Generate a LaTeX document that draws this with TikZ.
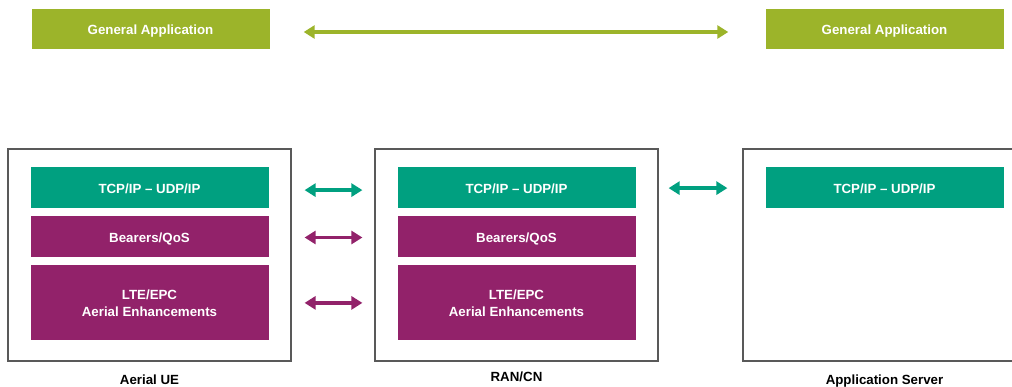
\documentclass[tikz,border=0pt]{standalone}
\usepackage{fontspec}
\setmainfont{Liberation Sans}
\usetikzlibrary{positioning,arrows.meta}

\definecolor{limegreen}{RGB}{156,180,42}
\definecolor{layerteal}{RGB}{0,160,128}
\definecolor{layerpurple}{RGB}{146,34,106}
\definecolor{framegray}{RGB}{89,89,89}

\begin{document}
\begin{tikzpicture}[x=1pt, y=-1pt, font=\bfseries\fontsize{13.3}{17}\selectfont, node distance=8pt,
  layer/.style={text=white, inner sep=0pt, align=center, minimum width=238pt, minimum height=41pt},
  oneline/.style={text height=12pt, text depth=0pt},
  app/.style={layer, oneline, fill=limegreen, minimum height=40pt},
  tcp/.style={layer, oneline, fill=layerteal},
  qos/.style={layer, oneline, fill=layerpurple},
  lte/.style={layer, fill=layerpurple, minimum height=75pt},
  frame/.style={draw=framegray, line width=1.2pt, minimum width=283pt, minimum height=212pt, inner sep=0pt},
  caption/.style={inner sep=0pt},
  biarrow/.style={line width=3.8pt, {Triangle[width=13pt,length=11pt]}-{Triangle[width=13pt,length=11pt]}}]
\useasboundingbox (0,0) rectangle (1012,387);

% application layer on top
\node[app] (genL) at (150.5,29) {General Application};
\node[app] (genR) at (884.5,29) {General Application};
\draw[biarrow, limegreen] ([xshift=34pt, yshift=-3pt]genL.east) -- ([xshift=-37pt, yshift=-3pt]genR.west);

% the three nodes
\node[frame] (ue) at (149.5,255) {};
\node[frame] (ran) at (516.5,255) {};
\node[frame] (srv) at (884.5,255) {};

\node[tcp, below=18pt of ue.north] (ueTcp) {TCP/IP -- UDP/IP};
\node[qos, below=of ueTcp] (ueQos) {Bearers/QoS};
\node[lte, below=of ueQos] (ueLte) {LTE/EPC\\Aerial Enhancements};

\node[tcp, below=18pt of ran.north] (ranTcp) {TCP/IP -- UDP/IP};
\node[qos, below=of ranTcp] (ranQos) {Bearers/QoS};
\node[lte, below=of ranQos] (ranLte) {LTE/EPC\\Aerial Enhancements};

\node[tcp, below=18pt of srv.north] (srvTcp) {TCP/IP -- UDP/IP};

\node[caption, below=13pt of ue] (ueName) {Aerial UE};
\node[caption, below=10pt of ran] (ranName) {RAN/CN};
\node[caption, below=13pt of srv] (srvName) {Application Server};

% peer links between layers
\draw[biarrow, layerteal] ([xshift=13pt, yshift=-3pt]ue.east |- ueTcp.center) -- ([xshift=-12pt, yshift=-3pt]ran.west |- ranTcp.center);
\draw[biarrow, layerpurple] ([xshift=13pt, yshift=-1pt]ue.east |- ueQos.center) -- ([xshift=-12pt, yshift=-1pt]ran.west |- ranQos.center);
\draw[biarrow, layerpurple] ([xshift=13pt]ue.east |- ueLte.center) -- ([xshift=-12pt]ran.west |- ranLte.center);
\draw[biarrow, layerteal] ([xshift=10pt, yshift=-1pt]ran.east |- ranTcp.center) -- ([xshift=-15pt, yshift=-1pt]srv.west |- srvTcp.center);
\end{tikzpicture}
\end{document}
